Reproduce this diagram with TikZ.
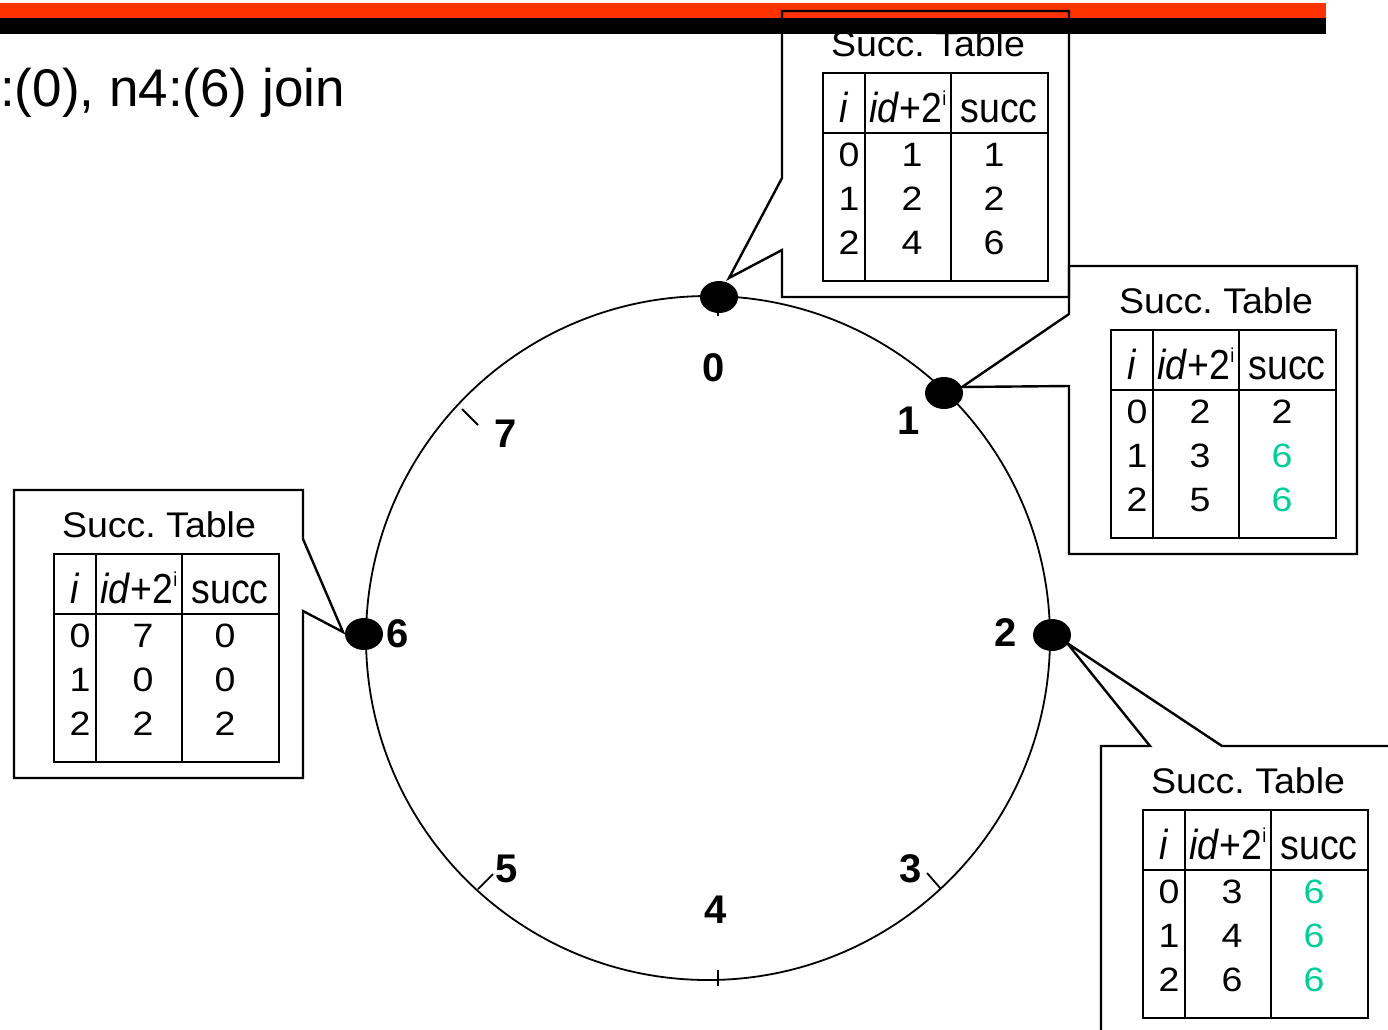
\documentclass[tikz,border=0pt]{standalone}
\usepackage{fontspec}
\setmainfont{Liberation Sans}
\usepackage{graphicx}
\usetikzlibrary{shapes.geometric}
\frenchspacing

\definecolor{barred}{RGB}{255,51,0}
\definecolor{teal6}{RGB}{0,204,153}

\newcommand{\ttlfont}{\fontsize{37.5}{40}\selectfont}
\newcommand{\tblfont}{\fontsize{37.5}{40}\selectfont}

\tikzset{
  outline/.style={draw=black, line width=2.4pt, line join=miter},
  grid/.style={draw=black, line width=2.6pt},
  ring/.style={draw=black, line width=1.8pt},
  tickmark/.style={draw=black, line width=1.8pt},
  peer/.style={ellipse, fill=black, minimum width=38pt, minimum height=32pt, inner sep=0pt},
  ringlbl/.style={font=\fontsize{40}{40}\selectfont\bfseries, inner sep=0pt},
  cell/.style={anchor=base, inner sep=0pt},
}

% finger table: #1 name prefix, #2 top-left corner, #3 rows i/id/succ/colour
\newcommand{\SuccTable}[3]{%
  \begin{scope}[shift={#2}]
    \draw[grid] (0,0) rectangle (225,208);
    \draw[grid] (0,60) -- (225,60) (42,0) -- (42,208) (128,0) -- (128,208);
    \node[cell, font=\ttlfont] (#1-title) at (105,-16.5) {\scalebox{1}[0.95]{Succ.\ Table}};
    \node[cell, font=\tblfont] (#1-hi) at (21,49) {\scalebox{1}[1.12]{\textit{i}}};
    \node[cell, font=\tblfont] (#1-hid) at (85,49)
      {\scalebox{1}[1.12]{\textit{id}+2\raisebox{14.5pt}{\fontsize{18}{18}\selectfont i}}};
    \node[cell, font=\tblfont] (#1-hs) at (176,49) {\scalebox{1}[1.12]{succ}};
    \foreach \ri/\rv/\rs/\rc [count=\rn from 0] in {#3} {
      \node[cell, font=\tblfont] (#1-i\rn) at (26,93+44*\rn) {\scalebox{1}[0.9]{\ri}};
      \node[cell, font=\tblfont] (#1-v\rn) at (89,93+44*\rn) {\scalebox{1}[0.9]{\rv}};
      \node[cell, font=\tblfont, text=\rc] (#1-s\rn) at (171,93+44*\rn) {\scalebox{1}[0.9]{\rs}};
    }
  \end{scope}}

\begin{document}
\begin{tikzpicture}[x=1pt,y=-1pt]
\useasboundingbox (0,0) rectangle (1388,1029);
\clip (0,0) rectangle (1388,1029);
\fill[white] (0,0) rectangle (1388,1029);

% slide heading
\node[anchor=base west, inner sep=0pt, font=\fontsize{53}{53}\selectfont] (heading) at (0,106) {:(0), n4:(6) join};

% identifier ring
\coordinate (c) at (708,638);
\draw[ring] (c) circle[radius=342];

% identifier ticks
\draw[tickmark] (718,289) -- (718,316);
\draw[tickmark] (462,409) -- (478,425);
\draw[tickmark] (478,889) -- (493,874);
\draw[tickmark] (718,970) -- (718,986);
\draw[tickmark] (941,889) -- (927,873);

% identifier labels
\node[ringlbl] (l0) at (714,368) {0};
\node[ringlbl] (l1) at (909,421) {1};
\node[ringlbl] (l2) at (1006,633) {2};
\node[ringlbl] (l3) at (911,869) {3};
\node[ringlbl] (l4) at (716,910) {4};
\node[ringlbl] (l5) at (507,869) {5};
\node[ringlbl] (l6) at (398,634) {6};
\node[ringlbl] (l7) at (506,434) {7};

% finger tables
\SuccTable{t0}{(823,73)}{0/1/1/black, 1/2/2/black, 2/4/6/black}
\SuccTable{t1}{(1111,330)}{0/2/2/black, 1/3/6/teal6, 2/5/6/teal6}
\SuccTable{t6}{(54,554)}{0/7/0/black, 1/0/0/black, 2/2/2/black}
\SuccTable{t2}{(1143,810)}{0/3/6/teal6, 1/4/6/teal6, 2/6/6/teal6}

% title bars
\fill[barred] (0,3) rectangle (1326,18);
\fill[black] (0,18) rectangle (1326,34);

% callout balloons
\coordinate (tip0) at (729,278);
\coordinate (tip1) at (962,387);
\coordinate (tip2) at (1067,643);
\coordinate (tip6) at (343,632);
\draw[outline] (782,11) -- (1069,11) -- (1069,297) -- (782,297) -- (782,250) -- (tip0) -- (782,178) -- cycle;
\draw[outline] (1069,266) -- (1357,266) -- (1357,554) -- (1069,554) -- (1069,386) -- (tip1) -- (1069,314) -- cycle;
\draw[outline] (14,490) -- (303,490) -- (303,539) -- (tip6) -- (303,611) -- (303,778) -- (14,778) -- cycle;
\draw[outline] (1101,1045) -- (1101,746) -- (1150,746) -- (tip2) -- (1222,746) -- (1400,746);

% nodes on the ring
\node[peer] (n0) at (719,297) {};
\node[peer] (n1) at (944,393) {};
\node[peer] (n2) at (1052,635) {};
\node[peer] (n6) at (364,634) {};
\end{tikzpicture}
\end{document}
